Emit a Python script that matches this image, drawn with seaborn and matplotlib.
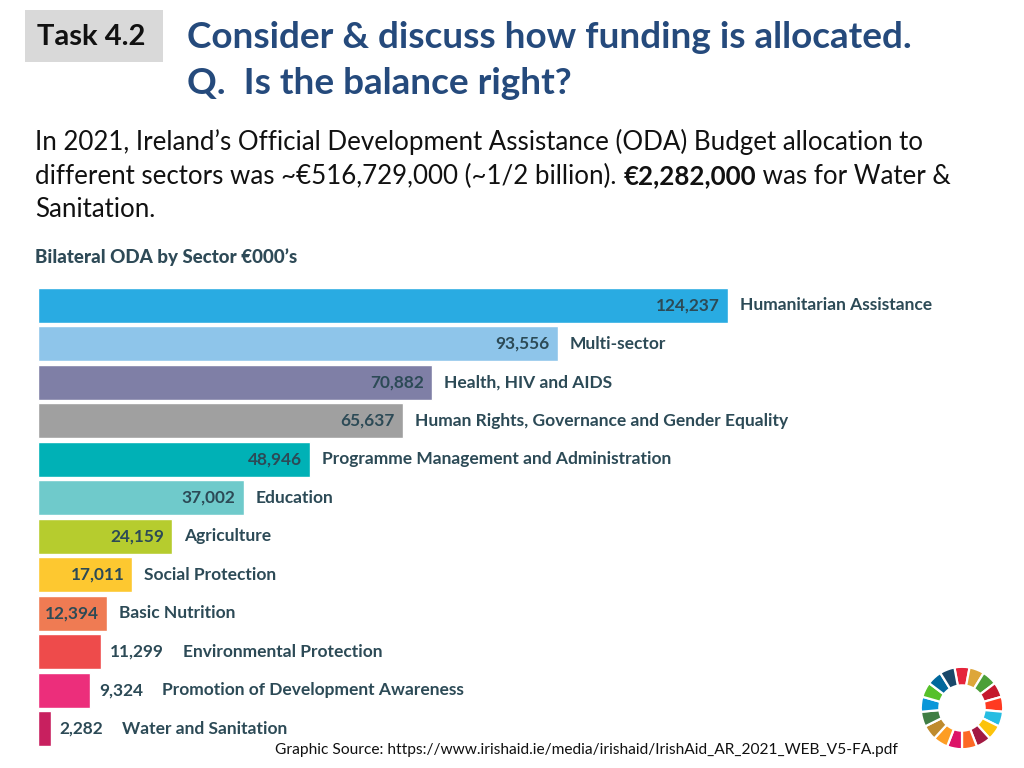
import matplotlib
matplotlib.use("Agg")
import matplotlib.pyplot as plt
import seaborn as sns
from matplotlib.patches import Rectangle

# ---------------- data ----------------
sectors = [
    "Humanitarian Assistance",
    "Multi-sector",
    "Health, HIV and AIDS",
    "Human Rights, Governance and Gender Equality",
    "Programme Management and Administration",
    "Education",
    "Agriculture",
    "Social Protection",
    "Basic Nutrition",
    "Environmental Protection",
    "Promotion of Development Awareness",
    "Water and Sanitation",
]
values = [124237, 93556, 70882, 65637, 48946, 37002, 24159, 17011, 12394, 11299, 9324, 2282]
bar_colors = ["#29ABE2", "#8EC5EA", "#7F7FA6", "#A0A0A0", "#00B1B6", "#6FCACB",
              "#B6CC2E", "#FDC830", "#EF7B53", "#EE4B4B", "#EC2E7B", "#C8205F"]
inside_label = [True] * 9 + [False] * 3

sdg_colors = ["#E5243B", "#DDA63A", "#4C9F38", "#C5192D", "#FF3A21", "#26BDE2",
              "#FCC30B", "#A21942", "#FD6925", "#DD1367", "#FD9D24", "#BF8B2E",
              "#3F7E44", "#0A97D9", "#56C02B", "#00689D", "#19486A"]
sdg_share = [1] * 17

title_lines = ["Consider & discuss how funding is allocated.", "Q.  Is the balance right?"]
body_line1 = "In 2021, Ireland\u2019s Official Development Assistance (ODA) Budget allocation to"
body_line2 = ["different sectors was ~\u20ac516,729,000 (~1/2 billion). ", "\u20ac2,282,000", " was for Water &"]
body_line3 = "Sanitation."
chart_title = "Bilateral ODA by Sector \u20ac000\u2019s"
source_text = "Graphic Source: https://www.irishaid.ie/media/irishaid/IrishAid_AR_2021_WEB_V5-FA.pdf"

# ---------------- figure ----------------
sns.set_theme(style="white")
plt.rcParams["font.family"] = ["Lato", "DejaVu Sans"]

W, H = 1024, 768
fig = plt.figure(figsize=(W / 100, H / 100), dpi=100)
fig.patch.set_facecolor("white")

def fx(px):
    return px / W

def fy(py):
    return 1 - py / H

# Task box
fig.patches.append(Rectangle((fx(25), fy(62)), fx(163) - fx(25), fy(10) - fy(62),
                             transform=fig.transFigure, facecolor="#D9D9D9", edgecolor="none"))
fig.text(fx(91), fy(37), "Task 4.2", ha="center", va="center", fontsize=21,
         fontweight="bold", color="#111111")

title_color = "#254A7C"
fig.text(fx(187), fy(37), title_lines[0], ha="left", va="center", fontsize=26.6,
         fontweight="bold", color=title_color)
fig.text(fx(187), fy(83), title_lines[1], ha="left", va="center", fontsize=26.6,
         fontweight="bold", color=title_color)

body_fs = 18.6
base_off = 7  # px from visual centre to baseline
fig.text(fx(35), fy(143 + base_off), body_line1, ha="left", va="baseline", fontsize=body_fs, color="#111111")
fig.text(fx(35), fy(210 + base_off), body_line3, ha="left", va="baseline", fontsize=body_fs, color="#111111")

# mixed-weight line
fig.canvas.draw()
renderer = fig.canvas.get_renderer()
x_cur = fx(35)
for i, piece in enumerate(body_line2):
    t = fig.text(x_cur, fy(177 + base_off), piece, ha="left", va="baseline", fontsize=body_fs,
                 fontweight="bold" if i == 1 else "normal", color="#111111")
    bb = t.get_window_extent(renderer=renderer)
    x_cur = bb.x1 / W

fig.text(fx(35), fy(257), chart_title, ha="left", va="center", fontsize=13.5,
         fontweight="black", color="#2E4A57")

fig.text(fx(275), fy(750), source_text, ha="left", va="center", fontsize=11.2,
         color="#111111")

# ---------------- bar chart ----------------
x0_px, x1_px = 38, 1000
px_per_unit = (728 - 38) / 124237
ax = fig.add_axes([fx(x0_px), fy(748), fx(x1_px) - fx(x0_px), fy(286) - fy(748)])
sns.barplot(x=values, y=sectors, hue=sectors, palette=bar_colors, legend=False,
            width=0.91, orient="h", saturation=1, ax=ax)
ax.set_xlim(0, (x1_px - x0_px) / px_per_unit)
ax.set_ylim(11.5, -0.5)
ax.axis("off")

label_color = "#2C4A56"
pt = 0.72  # points per pixel
val_fs, cat_fs = 12.4, 12.5
for i, (name, v) in enumerate(zip(sectors, values)):
    vtxt = f"{v:,}"
    if inside_label[i]:
        ax.annotate(vtxt, (v, i), xytext=(-8 * pt, 0), textcoords="offset points",
                    ha="right", va="center", fontsize=val_fs, fontweight="bold", color=label_color)
        ax.annotate(name, (v, i), xytext=(12 * pt, 0), textcoords="offset points",
                    ha="left", va="center", fontsize=cat_fs, fontweight="bold", color=label_color)
    else:
        va_ = ax.annotate(vtxt, (v, i), xytext=(9 * pt, 0), textcoords="offset points",
                          ha="left", va="center", fontsize=val_fs, fontweight="bold", color=label_color)
        ax.annotate(name, xy=(1, 0.5), xycoords=va_, xytext=(19 * pt, 0), textcoords="offset points",
                    ha="left", va="center", fontsize=cat_fs, fontweight="bold", color=label_color)

# ---------------- SDG wheel ----------------
r_px = 42
cx, cy = 962, 708
wax = fig.add_axes([fx(cx - r_px), fy(cy + r_px), fx(2 * r_px), fy(cy - r_px) - fy(cy + r_px)])
wax.pie(sdg_share, colors=sdg_colors, startangle=90 + 360 / 34, counterclock=False,
        wedgeprops=dict(width=0.45, edgecolor="white", linewidth=1.6))
wax.set_xlim(-1.02, 1.02)
wax.set_ylim(-1.02, 1.02)
wax.set_aspect("equal")
wax.axis("off")

fig.savefig("out.png", dpi=100, facecolor="white")
